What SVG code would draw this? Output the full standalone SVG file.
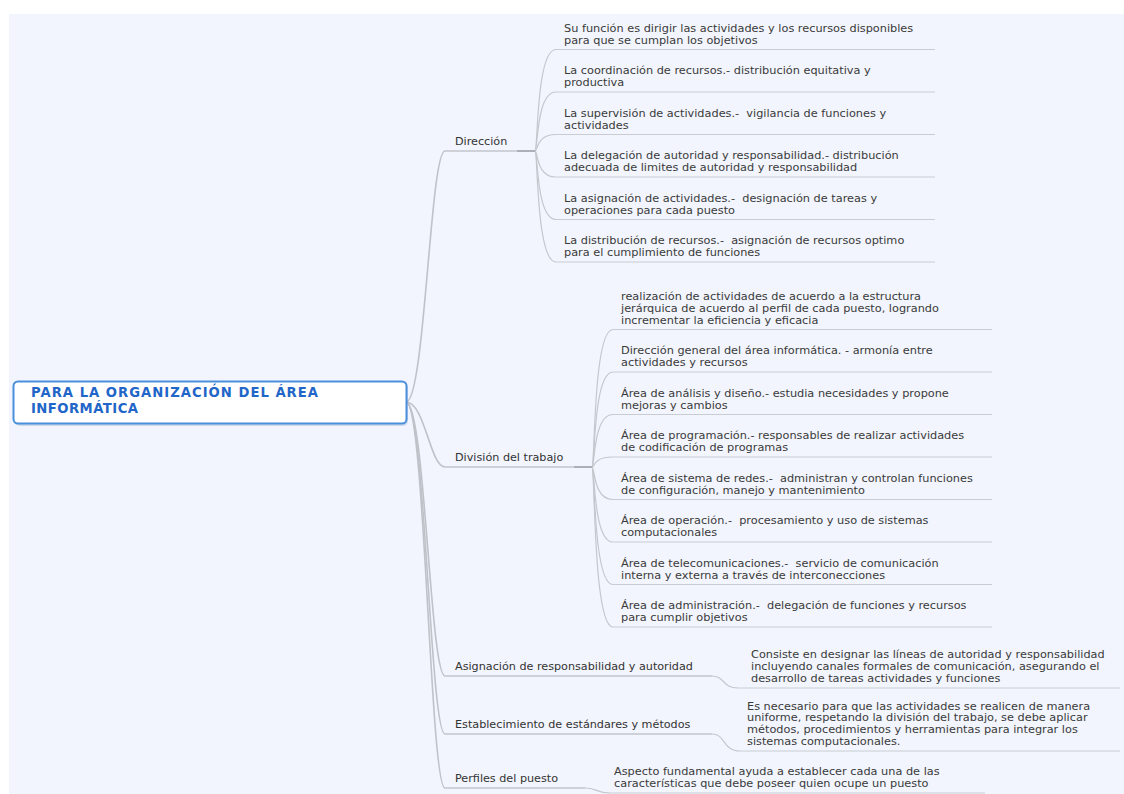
<svg xmlns="http://www.w3.org/2000/svg" width="1124" height="794" viewBox="0 0 1124 794">
<style>
.t{font-family:"DejaVu Sans",Verdana,sans-serif;font-size:11.3px;fill:#3a3a3a;white-space:pre}
.l1{fill:#333;font-size:11.2px}
.root{font-family:"DejaVu Sans",Verdana,sans-serif;font-size:13.2px;font-weight:bold;fill:#1f66c8}
.ul{stroke:#c9ccd2;stroke-width:1;fill:none}
.ul1{stroke:#c2c5cb;stroke-width:1.3;fill:none}
.c{stroke:#c4c7cd;stroke-width:1.2;fill:none}
.c0{stroke:#bfc2c8;stroke-width:1.6;fill:none}
.hub{stroke:#9b9ea4;stroke-width:1.6;fill:none}
</style>
<rect x="0" y="0" width="1124" height="794" fill="#ffffff"/>
<rect x="9" y="14" width="1115" height="780" fill="#f2f5fd"/>

<g id="connectors">
  <path class="c0" d="M406,402 C425,402 430,151 445,151"/>
  <path class="c0" d="M406,402 C425,402 430,467 445,467"/>
  <path class="c0" d="M406,402 C425,402 430,676 445,676"/>
  <path class="c0" d="M406,402 C425,402 430,734 445,734"/>
  <path class="c0" d="M406,402 C425,402 430,788 445,788"/>
  <!-- Dirección children -->
  <path class="c" d="M535,151 C538,151 536,49.5 556,49.5"/>
  <path class="c" d="M535,151 C538,151 536,92 556,92"/>
  <path class="c" d="M535,151 C538,151 536,134.5 556,134.5"/>
  <path class="c" d="M535,151 C538,151 536,177 556,177"/>
  <path class="c" d="M535,151 C538,151 536,219.5 556,219.5"/>
  <path class="c" d="M535,151 C538,151 536,262 556,262"/>
  <line class="hub" x1="517" y1="151" x2="535" y2="151"/>
  <!-- División children -->
  <path class="c" d="M592,467 C595,467 593,329.5 613,329.5"/>
  <path class="c" d="M592,467 C595,467 593,372 613,372"/>
  <path class="c" d="M592,467 C595,467 593,414.5 613,414.5"/>
  <path class="c" d="M592,467 C595,467 593,457 613,457"/>
  <path class="c" d="M592,467 C595,467 593,499.5 613,499.5"/>
  <path class="c" d="M592,467 C595,467 593,542 613,542"/>
  <path class="c" d="M592,467 C595,467 593,584.5 613,584.5"/>
  <path class="c" d="M592,467 C595,467 593,627 613,627"/>
  <line class="hub" x1="574" y1="467" x2="592" y2="467"/>
  <!-- single children -->
  <path class="c" d="M712,676 C725,676 722,688 738,688"/>
  <path class="c" d="M712,734 C726,734 722,751 740,751"/>
  <path class="c" d="M585,788 C597,788 596,793 610,793"/>
</g>

<g id="root">
  <rect x="15" y="383" width="393" height="43" rx="5" fill="#8aa6c8" opacity="0.35"/>
  <rect x="13.5" y="381.5" width="393" height="42" rx="4.5" fill="#ffffff" stroke="#4a8fdb" stroke-width="2"/>
  <text class="root" x="31" y="397" textLength="287" lengthAdjust="spacing">PARA LA ORGANIZACIÓN DEL ÁREA</text>
  <text class="root" x="31" y="412.5" textLength="107" lengthAdjust="spacing">INFORMÁTICA</text>
</g>

<g id="direccion">
  <line class="ul1" x1="445" y1="151" x2="517" y2="151"/>
  <text class="t l1" x="455" y="145">Dirección</text>
</g>
<g id="dir-1">
  <line class="ul" x1="556" y1="49.5" x2="935" y2="49.5"/>
  <text class="t" x="564" y="31.7">Su función es dirigir las actividades y los recursos disponibles</text>
  <text class="t" x="564" y="43.5">para que se cumplan los objetivos</text>
</g>
<g id="dir-2">
  <line class="ul" x1="556" y1="92" x2="935" y2="92"/>
  <text class="t" x="564" y="74.2">La coordinación de recursos.- distribución equitativa y</text>
  <text class="t" x="564" y="86">productiva</text>
</g>
<g id="dir-3">
  <line class="ul" x1="556" y1="134.5" x2="935" y2="134.5"/>
  <text class="t" x="564" y="116.7">La supervisión de actividades.-  vigilancia de funciones y</text>
  <text class="t" x="564" y="128.5">actividades</text>
</g>
<g id="dir-4">
  <line class="ul" x1="556" y1="177" x2="935" y2="177"/>
  <text class="t" x="564" y="159.2">La delegación de autoridad y responsabilidad.- distribución</text>
  <text class="t" x="564" y="171">adecuada de limites de autoridad y responsabilidad</text>
</g>
<g id="dir-5">
  <line class="ul" x1="556" y1="219.5" x2="935" y2="219.5"/>
  <text class="t" x="564" y="201.7">La asignación de actividades.-  designación de tareas y</text>
  <text class="t" x="564" y="213.5">operaciones para cada puesto</text>
</g>
<g id="dir-6">
  <line class="ul" x1="556" y1="262" x2="935" y2="262"/>
  <text class="t" x="564" y="244.2">La distribución de recursos.-  asignación de recursos optimo</text>
  <text class="t" x="564" y="256">para el cumplimiento de funciones</text>
</g>

<g id="division">
  <line class="ul1" x1="445" y1="467" x2="574" y2="467"/>
  <text class="t l1" x="455" y="461">División del trabajo</text>
</g>
<g id="div-1">
  <line class="ul" x1="613" y1="329.5" x2="992" y2="329.5"/>
  <text class="t" x="621" y="299.9">realización de actividades de acuerdo a la estructura</text>
  <text class="t" x="621" y="311.7">jerárquica de acuerdo al perfil de cada puesto, logrando</text>
  <text class="t" x="621" y="323.5">incrementar la eficiencia y eficacia</text>
</g>
<g id="div-2">
  <line class="ul" x1="613" y1="372" x2="992" y2="372"/>
  <text class="t" x="621" y="354.2">Dirección general del área informática. - armonía entre</text>
  <text class="t" x="621" y="366">actividades y recursos</text>
</g>
<g id="div-3">
  <line class="ul" x1="613" y1="414.5" x2="992" y2="414.5"/>
  <text class="t" x="621" y="396.7">Área de análisis y diseño.- estudia necesidades y propone</text>
  <text class="t" x="621" y="408.5">mejoras y cambios</text>
</g>
<g id="div-4">
  <line class="ul" x1="613" y1="457" x2="992" y2="457"/>
  <text class="t" x="621" y="439.2">Área de programación.- responsables de realizar actividades</text>
  <text class="t" x="621" y="451">de codificación de programas</text>
</g>
<g id="div-5">
  <line class="ul" x1="613" y1="499.5" x2="992" y2="499.5"/>
  <text class="t" x="621" y="481.7">Área de sistema de redes.-  administran y controlan funciones</text>
  <text class="t" x="621" y="493.5">de configuración, manejo y mantenimiento</text>
</g>
<g id="div-6">
  <line class="ul" x1="613" y1="542" x2="992" y2="542"/>
  <text class="t" x="621" y="524.2">Área de operación.-  procesamiento y uso de sistemas</text>
  <text class="t" x="621" y="536">computacionales</text>
</g>
<g id="div-7">
  <line class="ul" x1="613" y1="584.5" x2="992" y2="584.5"/>
  <text class="t" x="621" y="566.7">Área de telecomunicaciones.-  servicio de comunicación</text>
  <text class="t" x="621" y="578.5">interna y externa a través de interconecciones</text>
</g>
<g id="div-8">
  <line class="ul" x1="613" y1="627" x2="992" y2="627"/>
  <text class="t" x="621" y="609.2">Área de administración.-  delegación de funciones y recursos</text>
  <text class="t" x="621" y="621">para cumplir objetivos</text>
</g>

<g id="asignacion">
  <line class="ul1" x1="445" y1="676" x2="712" y2="676"/>
  <text class="t l1" x="455" y="670">Asignación de responsabilidad y autoridad</text>
</g>
<g id="asig-1">
  <line class="ul" x1="738" y1="688" x2="1120" y2="688"/>
  <text class="t" x="751" y="658.4">Consiste en designar las líneas de autoridad y responsabilidad</text>
  <text class="t" x="751" y="670.2">incluyendo canales formales de comunicación, asegurando el</text>
  <text class="t" x="751" y="682">desarrollo de tareas actividades y funciones</text>
</g>

<g id="establecimiento">
  <line class="ul1" x1="445" y1="734" x2="712" y2="734"/>
  <text class="t l1" x="455" y="728">Establecimiento de estándares y métodos</text>
</g>
<g id="est-1">
  <line class="ul" x1="740" y1="751" x2="1120" y2="751"/>
  <text class="t" x="747" y="709.6">Es necesario para que las actividades se realicen de manera</text>
  <text class="t" x="747" y="721.4">uniforme, respetando la división del trabajo, se debe aplicar</text>
  <text class="t" x="747" y="733.2">métodos, procedimientos y herramientas para integrar los</text>
  <text class="t" x="747" y="745">sistemas computacionales.</text>
</g>

<g id="perfiles">
  <line class="ul1" x1="445" y1="788" x2="585" y2="788"/>
  <text class="t l1" x="455" y="782">Perfiles del puesto</text>
</g>
<g id="perf-1">
  <line class="ul" x1="610" y1="793" x2="985" y2="793"/>
  <text class="t" x="614" y="775.2">Aspecto fundamental ayuda a establecer cada una de las</text>
  <text class="t" x="614" y="787">características que debe poseer quien ocupe un puesto</text>
</g>
</svg>
